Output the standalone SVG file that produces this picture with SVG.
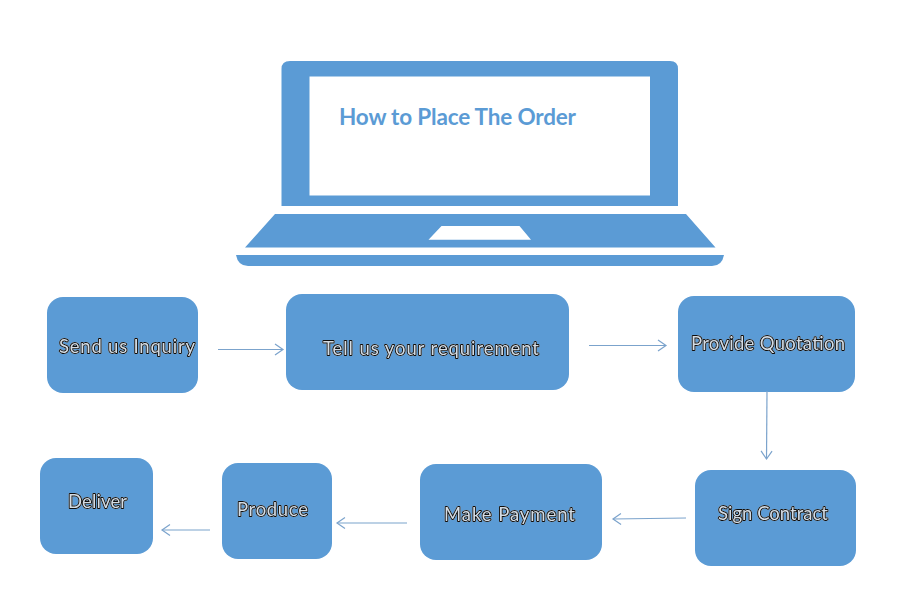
<svg xmlns="http://www.w3.org/2000/svg" width="903" height="612" viewBox="0 0 903 612">
<style>
.box{fill:#5b9bd5}
.lbl{font-family:"Lato","Open Sans","Liberation Sans",sans-serif;font-size:18.5px;fill:#d4dce4;stroke:#0c0c0c;stroke-width:1.9px;paint-order:stroke;stroke-linejoin:round;filter:drop-shadow(.6px .6px 0 #fff)}
.cn{fill:none;stroke:#7ba3cc;stroke-width:1.2;marker-end:url(#a)}
</style>
<defs>
<marker id="a" markerUnits="userSpaceOnUse" markerWidth="14" markerHeight="14" refX="11" refY="7" orient="auto"><path d="M3 1.5L11 7L3 12.5" fill="none" stroke="#7ba3cc" stroke-width="1.2"/></marker>
</defs>
<rect width="903" height="612" fill="#fff"/>
<g id="laptop">
<path class="box" fill-rule="evenodd" d="M281.5 206V69Q281.5 61 290 61H670Q678 61 678 69V206ZM309.5 76.5V195.5H650V76.5Z"/>
<path class="box" fill-rule="evenodd" d="M275 214H686L715.5 247.500H245ZM441.500 226L428.500 239.700H531L519.500 226Z"/>
<path class="box" d="M236 255H724Q722 266 712 266H248Q238 266 236 255Z"/>
<text x="339" y="125" textLength="237" font-family="Lato,'Open Sans','Liberation Sans',sans-serif" font-size="22.500" font-weight="700" fill="#5b9bd5">How to Place The Order</text>
</g>
<g id="send"><rect class="box" x="47" y="297" width="151" height="96" rx="16"/><text class="lbl" x="59" y="353" textLength="136">Send us Inquiry</text></g>
<g id="tell"><rect class="box" x="286" y="294" width="283" height="96" rx="16"/><text class="lbl" x="323" y="355" textLength="216">Tell us your requirement</text></g>
<g id="quote"><rect class="box" x="678" y="296" width="177" height="96" rx="16"/><text class="lbl" x="691" y="350" textLength="154">Provide Quotation</text></g>
<g id="sign"><rect class="box" x="695" y="470" width="161" height="96" rx="16"/><text class="lbl" x="718" y="520" textLength="110">Sign Contract</text></g>
<g id="pay"><rect class="box" x="420" y="464" width="182" height="96" rx="16"/><text class="lbl" x="444" y="521" textLength="131">Make Payment</text></g>
<g id="produce"><rect class="box" x="222" y="463" width="110" height="96" rx="16"/><text class="lbl" x="237" y="516" textLength="71">Produce</text></g>
<g id="deliver"><rect class="box" x="40" y="458" width="113" height="96" rx="16"/><text class="lbl" x="68" y="508" textLength="59">Deliver</text></g>
<g id="connectors">
<path class="cn" d="M218 349.500H283"/>
<path class="cn" d="M589 345.500H666"/>
<path class="cn" d="M767 391L766.500 459"/>
<path class="cn" d="M686 518L613 519"/>
<path class="cn" d="M407 523H337"/>
<path class="cn" d="M210 530H162"/>
</g>
</svg>
